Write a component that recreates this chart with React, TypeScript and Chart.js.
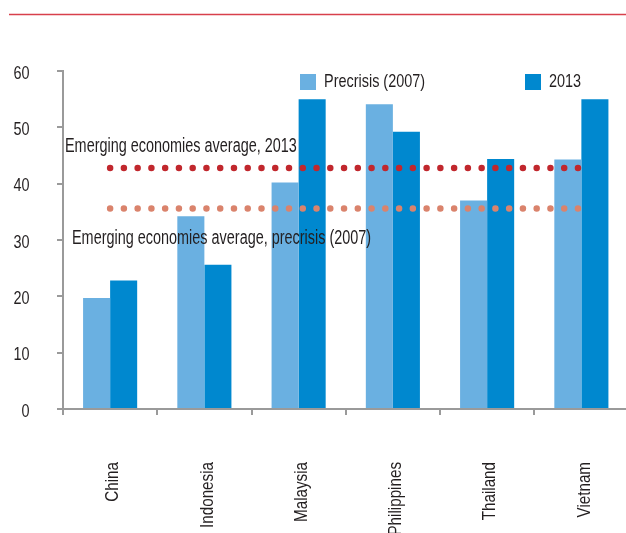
import React, { useEffect, useRef } from "react";
import { Chart, registerables } from "chart.js";

Chart.register(...registerables);

const categories = ["China", "Indonesia", "Malaysia", "Philippines", "Thailand", "Vietnam"];
const precrisis2007 = [19.7, 34.2, 40.2, 54.1, 37.0, 44.3];
const values2013 = [22.8, 25.6, 55.0, 49.2, 44.4, 55.0];
const avg2013 = 42.8;
const avgPrecrisis = 35.6;
const yMin = 0;
const yMax = 60;
const yStep = 10;
const seriesLabels = ["Precrisis (2007)", "2013"];
const annotationLabels = [
  "Emerging economies average, 2013",
  "Emerging economies average, precrisis (2007)",
];

const FONT = "'Liberation Sans', Arial, sans-serif";
const SQUEEZE = 0.76;
const TEXT = "#231f20";
const LIGHT = "#6ab0e1";
const DARK = "#0088cf";
const RED_DOT = "#c1272d";
const SALMON_DOT = "#da836c";
const AXIS = "#9a9a9a";

function drawText(
  ctx: CanvasRenderingContext2D,
  text: string,
  x: number,
  y: number,
  size: number,
  align: CanvasTextAlign,
  rotate = 0,
  squeeze = SQUEEZE
) {
  ctx.save();
  ctx.translate(x, y);
  if (rotate) ctx.rotate(rotate);
  ctx.scale(squeeze, 1);
  ctx.font = `${size}px ${FONT}`;
  ctx.textAlign = align;
  ctx.textBaseline = "middle";
  ctx.fillStyle = TEXT;
  ctx.fillText(text, 0, 0);
  ctx.restore();
}

const overlayPlugin = {
  id: "overlay",
  afterDraw(chart: any) {
    const ctx = chart.ctx as CanvasRenderingContext2D;
    const ys = chart.scales.y;
    const xs = chart.scales.x;
    ctx.save();
    // top red rule
    ctx.strokeStyle = "#d8404b";
    ctx.lineWidth = 1.5;
    ctx.beginPath();
    ctx.moveTo(9, 14.5);
    ctx.lineTo(chart.width, 14.5);
    ctx.stroke();
    ctx.restore();

    // y tick labels
    for (let v = yMin; v <= yMax; v += yStep) {
      drawText(ctx, String(v), 29.5, ys.getPixelForValue(v) + 2.5, 19, "right");
    }
    // x category labels (rotated, end near axis)
    categories.forEach((c, i) => {
      const x = xs.getPixelForValue(i);
      drawText(ctx, c, x + 3, 462, 19, "right", -Math.PI / 2, 0.8);
    });

    // legend
    ctx.save();
    ctx.fillStyle = LIGHT;
    ctx.fillRect(300, 74, 16, 16);
    ctx.fillStyle = DARK;
    ctx.fillRect(525, 74, 16, 16);
    ctx.restore();
    drawText(ctx, seriesLabels[0], 324, 82, 19, "left");
    drawText(ctx, seriesLabels[1], 549, 82, 19, "left");

    // annotation labels
    drawText(ctx, annotationLabels[0], 65, ys.getPixelForValue(avg2013) - 21, 19.5, "left", 0, 0.74);
    drawText(ctx, annotationLabels[1], 72, ys.getPixelForValue(avgPrecrisis) + 30, 19.5, "left", 0, 0.74);
  },
};

export default function App() {
  const ref = useRef<HTMLCanvasElement | null>(null);
  useEffect(() => {
    if (!ref.current) return;
    const chart = new Chart(ref.current, {
      type: "bar",
      data: {
        labels: categories,
        datasets: [
          {
            type: "line",
            label: annotationLabels[0],
            data: categories.map(() => avg2013),
            borderColor: RED_DOT,
            borderWidth: 6.5,
            borderDash: [0, 13.76],
            borderCapStyle: "round",
            pointRadius: 0,
            fill: false,
            order: 0,
          } as any,
          {
            type: "line",
            label: annotationLabels[1],
            data: categories.map(() => avgPrecrisis),
            borderColor: SALMON_DOT,
            borderWidth: 6.5,
            borderDash: [0, 13.76],
            borderCapStyle: "round",
            pointRadius: 0,
            fill: false,
            order: 0,
          } as any,
          {
            label: seriesLabels[0],
            data: precrisis2007,
            backgroundColor: LIGHT,
            barPercentage: 1,
            categoryPercentage: 0.574,
            order: 1,
          },
          {
            label: seriesLabels[1],
            data: values2013,
            backgroundColor: DARK,
            barPercentage: 1,
            categoryPercentage: 0.574,
            order: 1,
          },
        ],
      },
      options: {
        responsive: false,
        animation: false,
        devicePixelRatio: 1,
        layout: { padding: { top: 71, right: 3.5, left: 0, bottom: 0 } },
        plugins: {
          legend: { display: false },
          tooltip: { enabled: false },
        },
        scales: {
          x: {
            grid: {
              display: true,
              drawOnChartArea: false,
              drawTicks: true,
              tickLength: 6,
              color: AXIS,
              lineWidth: 2,
              offset: true,
            },
            border: { display: true, color: AXIS, width: 2 },
            ticks: { display: false, autoSkip: false },
            afterFit: (scale: any) => {
              scale.height = 124;
            },
          },
          y: {
            min: yMin,
            max: yMax,
            grid: {
              display: true,
              drawOnChartArea: false,
              drawTicks: true,
              tickLength: 6,
              color: AXIS,
              lineWidth: 2,
            },
            border: { display: true, color: AXIS, width: 2 },
            ticks: { display: false, stepSize: yStep },
            afterFit: (scale: any) => {
              scale.width = 63;
            },
          },
        },
      },
      plugins: [overlayPlugin],
    });
    return () => chart.destroy();
  }, []);
  return (
    <div
      style={{
        position: "fixed",
        left: 0,
        top: 0,
        width: 626,
        height: 533,
        overflow: "hidden",
        background: "#fff",
      }}
    >
      <canvas ref={ref} width={632} height={533} style={{ display: "block" }} />
    </div>
  );
}
